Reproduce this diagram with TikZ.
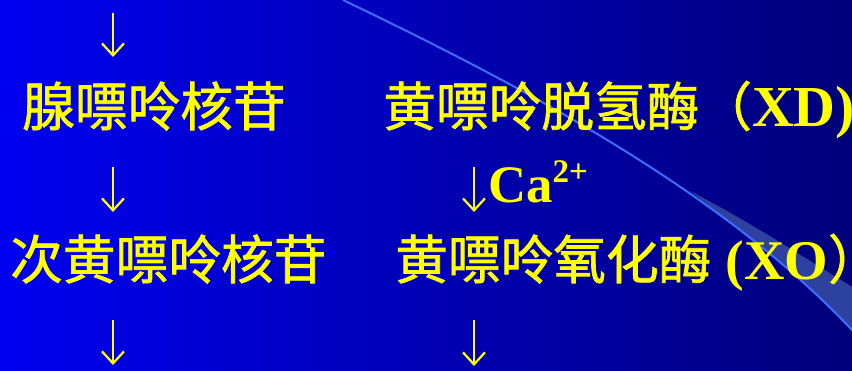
\documentclass[tikz,border=0pt]{standalone}
\usepackage{fontspec}
\setmainfont{Liberation Serif}
\newfontfamily\cjkraw{Noto Sans CJK SC}[FakeBold=1.3]
\newcommand\cjk{\mdseries\cjkraw}
\usetikzlibrary{arrows.meta}
\definecolor{bgleft}{RGB}{0,0,240}
\definecolor{bgright}{RGB}{0,0,122}
\definecolor{swline}{RGB}{60,110,255}
\definecolor{swband}{RGB}{45,65,160}
\definecolor{txt}{RGB}{255,255,0}
\tikzset{
  lbl/.style={anchor=base west, inner sep=0pt, text=txt, font=\fontsize{52.7}{60}\selectfont\bfseries},
  flow/.style={draw=txt, line width=2.2pt, -{Straight Barb[length=12pt,width=22pt,line width=2.2pt]}}
}
\begin{document}
\begin{tikzpicture}[x=1pt,y=-1pt]
\useasboundingbox (0,0) rectangle (852,370);
\shade[left color=bgleft, right color=bgright] (0,0) rectangle (852,370);
\begin{scope}
\clip (0,0) rectangle (852,370);
\fill[swband] (690,191) .. controls (750,222) and (800,255) .. (862,293) -- (862,345) -- (852,330) .. controls (800,275) and (750,238) .. (690,191) -- cycle;
\draw[swline, line width=2pt] (343,0) .. controls (520,85) and (720,190) .. (852,330) -- (862,342);
\end{scope}
% nodes
\node[lbl] (L1) at (22,126) {\cjk 腺嘌呤核苷};
\node[lbl] (L2) at (10,279) {\cjk 次黄嘌呤核苷};
\node[lbl] (R1) at (383,126) {{\cjk 黄嘌呤脱氢酶（}\fontsize{58}{60}\selectfont XD)};
\node[lbl] (R2) at (395,279) {{\cjk 黄嘌呤氧化酶}\fontsize{56}{60}\selectfont\ (XO{\cjk\fontsize{52.7}{60}\selectfont ）}};
\node[lbl] (ca) at (488,202) {Ca\raisebox{20pt}{\fontsize{33}{34}\selectfont 2+}};
% arrow end points
\coordinate (a1s) at (113,13);  \coordinate (a1e) at (113,57);
\coordinate (a2s) at (113,167); \coordinate (a2e) at (113,212);
\coordinate (a3s) at (113,320); \coordinate (a3e) at (113,365);
\coordinate (a4s) at (474,167); \coordinate (a4e) at (474,212);
\coordinate (a5s) at (474,320); \coordinate (a5e) at (474,366);
\draw[flow] (a1s) -- (a1e);
\draw[flow] (a2s) -- (a2e);
\draw[flow] (a3s) -- (a3e);
\draw[flow] (a4s) -- (a4e);
\draw[flow] (a5s) -- (a5e);
\end{tikzpicture}
\end{document}
